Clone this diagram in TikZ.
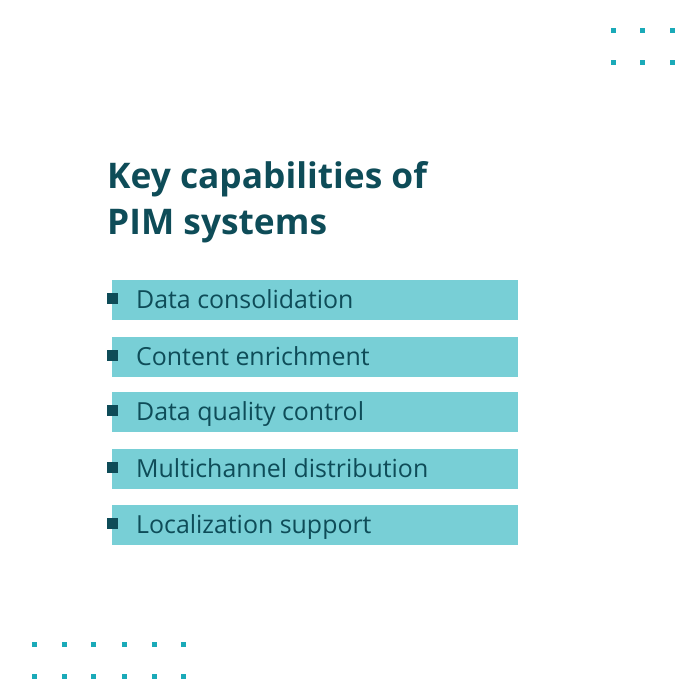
\documentclass[tikz,border=0pt]{standalone}
\usepackage{fontspec}
\setmainfont{Open Sans}
\definecolor{dark}{HTML}{0E4C58}
\definecolor{bar}{HTML}{78CFD6}
\definecolor{dot}{HTML}{1AAAB8}
\begin{document}
\begin{tikzpicture}[x=1pt,y=-1pt,
 barbox/.style={fill=bar,draw=none,minimum width=406pt,minimum height=40pt,inner sep=0pt,anchor=north west},
 bul/.style={fill=dark,minimum size=11pt,inner sep=0pt},
 item/.style={text=dark,font=\fontsize{24.9}{28}\selectfont,anchor=base west,inner sep=0pt},
 dotsq/.style={fill=dot,minimum size=5pt,inner sep=0pt}]
\useasboundingbox (0,0) rectangle (700,699);
\node[text=dark,font=\fontsize{35.3}{46}\selectfont\bfseries,align=left,anchor=north west,inner sep=0pt] (title) at (107,161) {Key capabilities of\\PIM systems};
\foreach \y/\t [count=\i] in {280/Data consolidation,337/Content enrichment,392/Data quality control,449/Multichannel distribution,505/Localization support}{
 \node[barbox] (b\i) at (112,\y) {};
 \node[bul] (s\i) at (112,\y+18) {};
 \node[item] (t\i) at (136,\y+28) {\t};
}
\foreach \x [count=\i] in {613,642,672}{\node[dotsq] (tu\i) at (\x,30) {};\node[dotsq] (tl\i) at (\x,62) {};}
\foreach \x [count=\i] in {34,64,93,124,154,183}{\node[dotsq] (bu\i) at (\x,644) {};\node[dotsq] (bl\i) at (\x,676) {};}
\end{tikzpicture}
\end{document}
